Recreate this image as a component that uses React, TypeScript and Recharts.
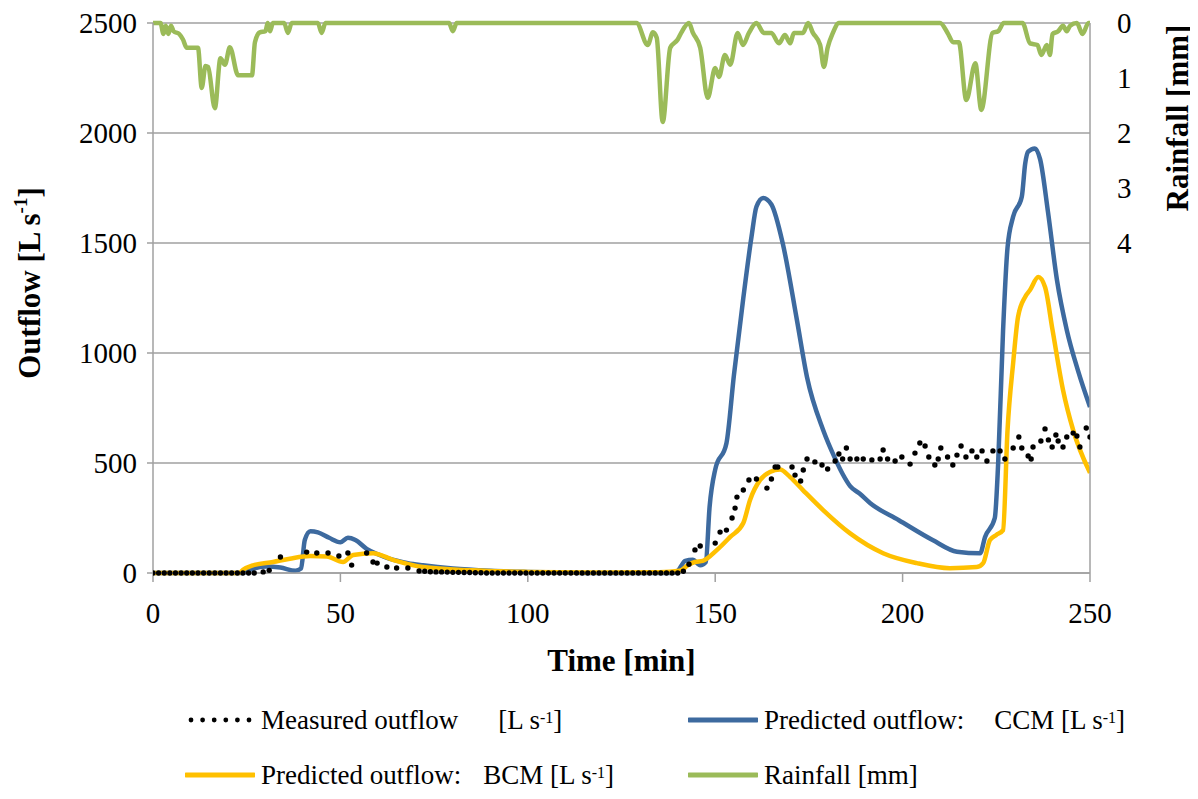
import React from 'react';
import { LineChart, Line, XAxis, YAxis, CartesianGrid, Legend, Label } from 'recharts';

// ---- data ----
const timeTicks = [0, 50, 100, 150, 200, 250];
const flowTicks = [0, 500, 1000, 1500, 2000, 2500];
const rainTicks = [0, 1, 2, 3, 4];

const rainTime = [0, 2, 2.8, 3.4, 4.1, 4.8, 5.5, 7, 8, 9, 12, 13, 14, 14.7, 16.5, 18, 19.2, 20.5, 22.7, 26.4, 27.2, 28.5, 30, 30.6, 31.2, 32, 35, 36, 37, 44, 45, 46, 79, 80, 81, 129, 132, 133.4, 134.4, 136, 138, 140, 141, 143, 144, 146, 148, 150, 151, 152.6, 154, 156, 157.4, 159, 161, 163, 165, 167, 168.6, 170, 171, 173.4, 174.8, 176, 178, 179, 180, 181.4, 183, 210, 212, 213.5, 215, 217, 219.4, 221, 224, 225.5, 227, 232, 234, 236, 237, 238.5, 239.3, 240, 241.5, 242.8, 243.8, 244.7, 246.5, 248, 249.6, 250];
const rainMm = [0, 0, 0.2, 0.05, 0.2, 0.05, 0.15, 0.2, 0.3, 0.45, 0.45, 1.18, 0.78, 0.8, 1.55, 0.64, 0.76, 0.44, 0.95, 0.95, 0.35, 0.17, 0.15, 0, 0.15, 0, 0, 0.18, 0, 0, 0.18, 0, 0, 0.15, 0, 0, 0.4, 0.17, 0.27, 1.8, 0.45, 0.3, 0.17, 0, 0.17, 0.45, 1.36, 0.82, 0.98, 0.58, 0.76, 0.18, 0.4, 0.18, 0, 0.18, 0.18, 0.37, 0.22, 0.37, 0.18, 0.18, 0, 0.17, 0.4, 0.8, 0.45, 0.18, 0, 0, 0.18, 0.35, 0.35, 1.4, 0.73, 1.58, 0.18, 0.15, 0, 0, 0.37, 0.4, 0.58, 0.4, 0.58, 0.2, 0.15, 0.05, 0.15, 0.05, 0, 0.2, 0, 0];

const ccmTime = [0, 24, 26, 30, 34, 38, 39.5, 40.5, 42, 44, 47, 50, 52, 54, 57, 60, 63, 68, 72, 80, 90, 100, 110, 120, 138, 140, 142, 144, 146, 147.5, 148.5, 150, 153, 155, 157.5, 159.7, 161, 162.8, 165, 168, 171.8, 174.5, 178.8, 182, 184, 186, 188.6, 191.3, 199, 208, 214.5, 220.7, 222, 224.6, 225.5, 226.8, 228, 229.5, 231.8, 232.7, 233.5, 235.3, 236.7, 238.8, 241.2, 243.8, 246.8, 250];
const ccmFlow = [0, 0, 15, 30, 25, 10, 20, 150, 190, 185, 160, 140, 160, 150, 110, 85, 65, 45, 35, 20, 10, 5, 2, 0, 0, 10, 55, 60, 35, 50, 300, 470, 590, 900, 1250, 1530, 1665, 1705, 1675, 1500, 1150, 890, 650, 520, 450, 395, 360, 318, 240, 150, 97, 90, 164, 250, 500, 1100, 1480, 1620, 1710, 1860, 1915, 1930, 1880, 1640, 1330, 1105, 920, 755];

const bcmTime = [0, 23, 24, 26.7, 32, 36.5, 42, 46.4, 50.7, 53.4, 58.7, 64, 72, 85, 100, 120, 135, 140.6, 142.7, 144.6, 146.7, 150.5, 154, 157.5, 159.3, 162, 164.6, 167.3, 170, 173.4, 178.8, 186, 194.8, 203.8, 212.6, 219.8, 221.5, 223.3, 225, 226.8, 228, 229.5, 230.8, 232.7, 234, 236.2, 238, 240, 242.8, 245.5, 250];
const bcmFlow = [0, 0, 14, 35, 50, 65, 77, 75, 50, 82, 90, 60, 27, 12, 5, 2, 3, 10, 35, 50, 55, 105, 164, 227, 332, 423, 459, 470, 436, 377, 286, 180, 90, 45, 22, 27, 45, 150, 173, 195, 650, 955, 1164, 1255, 1286, 1345, 1300, 1105, 832, 650, 455];

const measTime = [0, 1.5, 3, 4.5, 6, 7.5, 9, 10.5, 12, 13.5, 15, 16.5, 18, 19.5, 21, 22.5, 24, 25.5, 27, 29.4, 31, 34, 41, 43.7, 46.7, 49.6, 52, 53, 57, 58.7, 59.8, 62.4, 65, 68, 71, 72.5, 74, 75.5, 77, 78.5, 80, 81.5, 83, 84.5, 86, 87.5, 89, 90.5, 92, 93.5, 95, 96.5, 98, 99.5, 101, 102.5, 104, 105.5, 107, 108.5, 110, 111.5, 113, 114.5, 116, 117.5, 119, 120.5, 122, 123.5, 125, 126.5, 128, 129.5, 131, 132.5, 134, 135.5, 137, 138.5, 140, 141.5, 143, 144.6, 146, 150, 151.3, 153, 154.5, 155.3, 155.8, 157.5, 159, 161, 163.8, 165, 166, 166.7, 170.5, 171.3, 172.8, 173.5, 174.5, 176.6, 178.5, 180, 182, 183, 184, 185, 186, 187.8, 189.5, 191.8, 194, 194.8, 196, 198, 199.8, 202, 203.3, 204.6, 206, 207, 208.6, 209.5, 210.2, 212, 213.4, 214.5, 215.6, 216.9, 218.5, 219.8, 221.2, 222.5, 224.1, 226, 227.3, 229.5, 231, 231.8, 233.5, 234.3, 234.8, 236.9, 238, 238.9, 239.9, 240.9, 241.5, 242.8, 243.8, 245.5, 246.5, 247.3, 249, 250];
const measFlow = [0, 0, 0, 0, 0, 0, 0, 0, 0, 0, 0, 0, 0, 0, 0, 0, 0, 0, 0, 5, 12, 73, 95, 91, 91, 77, 91, 36, 91, 50, 45, 27, 23, 23, 9, 8, 6, 5, 5, 4, 3, 3, 2, 2, 1, 1, 0, 0, 0, 0, 0, 0, 0, 0, 0, 0, 0, 0, 0, 0, 0, 0, 0, 0, 0, 0, 0, 0, 0, 0, 0, 0, 0, 0, 0, 0, 0, 0, 0, 0, 0, 8, 40, 105, 123, 136, 186, 195, 250, 295, 345, 377, 423, 427, 386, 427, 482, 482, 482, 445, 418, 468, 518, 505, 491, 473, 509, 541, 518, 568, 518, 518, 518, 514, 518, 559, 518, 509, 527, 495, 545, 591, 577, 527, 491, 518, 568, 527, 491, 536, 577, 527, 555, 527, 555, 509, 555, 555, 518, 568, 618, 568, 532, 518, 573, 600, 655, 605, 573, 627, 600, 573, 618, 636, 623, 573, 659, 618];

const rainData = rainTime.map((t, i) => ({ t, rain: rainMm[i] }));
const ccmData = ccmTime.map((t, i) => ({ t, ccm: ccmFlow[i] }));
const bcmData = bcmTime.map((t, i) => ({ t, bcm: bcmFlow[i] }));
const measData = measTime.map((t, i) => ({ t, meas: measFlow[i] }));

const FONT = '"Liberation Serif", "Times New Roman", serif';
const C_BLUE = '#3D6A9F';
const C_ORANGE = '#FFC000';
const C_GREEN = '#9BBB59';
const C_AXIS = '#a0a0a0';
const TICK_FS = 29;
const TITLE_FS = 31;

const XTick = (props: any) => {
  const { x, y, payload } = props;
  return (
    <text x={x} y={y} textAnchor="middle" dominantBaseline="hanging" style={{ fontFamily: FONT, fontSize: TICK_FS }} fill="#000">
      {payload.value}
    </text>
  );
};

const LeftTick = (props: any) => {
  const { x, y, payload } = props;
  return (
    <text x={x} y={y} textAnchor="end" dominantBaseline="central" style={{ fontFamily: FONT, fontSize: TICK_FS }} fill="#000">
      {payload.value}
    </text>
  );
};

const RightTick = (props: any) => {
  const { x, y, payload } = props;
  return (
    <text x={x} y={y} textAnchor="start" dominantBaseline="central" style={{ fontFamily: FONT, fontSize: TICK_FS }} fill="#000">
      {payload.value}
    </text>
  );
};

const LeftTitle = (props: any) => {
  const vb = props.viewBox || {};
  const cx = vb.x - 44;
  const cy = vb.y + vb.height / 2 - 15;
  return (
    <text x={cx} y={cy} transform={`rotate(-90, ${cx}, ${cy})`} textAnchor="middle" dominantBaseline="central"
      style={{ fontFamily: FONT, fontWeight: 'bold', fontSize: TITLE_FS }} fill="#000">
      Outflow [L s<tspan dy={-9} style={{ fontSize: 19 }}>-1</tspan><tspan dy={9}>]</tspan>
    </text>
  );
};

const RightTitle = (props: any) => {
  const vb = props.viewBox || {};
  const cx = vb.x + 87;
  const cy = vb.y + 95;
  return (
    <text x={cx} y={cy} transform={`rotate(-90, ${cx}, ${cy})`} textAnchor="middle" dominantBaseline="central"
      style={{ fontFamily: FONT, fontWeight: 'bold', fontSize: TITLE_FS }} fill="#000">
      Rainfall [mm]
    </text>
  );
};

const BottomTitle = (props: any) => {
  const vb = props.viewBox || {};
  const cx = vb.x + vb.width / 2;
  const cy = vb.y + 87;
  return (
    <text x={cx} y={cy} textAnchor="middle" dominantBaseline="central"
      style={{ fontFamily: FONT, fontWeight: 'bold', fontSize: TITLE_FS }} fill="#000">
      Time [min]
    </text>
  );
};

const Sup = ({ children }: any) => (
  <span style={{ fontSize: 16, verticalAlign: 'top', position: 'relative', top: -2 }}>{children}</span>
);

const Sample = ({ kind, color }: any) => (
  <svg width={70} height={12} style={{ display: 'block' }}>
    {kind === 'dots' ? (
      [0, 1, 2, 3, 4, 5].map((k) => <circle key={k} cx={6 + k * 11.6} cy={6} r={2.4} fill="#000" />)
    ) : (
      <line x1={1} y1={6} x2={69} y2={6} stroke={color} strokeWidth={5} strokeLinecap="round" />
    )}
  </svg>
);

const LegendItem = ({ left, top, kind, color, children }: any) => (
  <div style={{ position: 'absolute', left, top, height: 30, display: 'flex', alignItems: 'center', whiteSpace: 'pre' }}>
    <Sample kind={kind} color={color} />
    <span style={{ marginLeft: 6 }}>{children}</span>
  </div>
);

const LegendContent = () => (
  <div style={{ position: 'relative', width: 1190, height: 100, fontFamily: FONT, fontSize: 27, color: '#000', lineHeight: '30px' }}>
    <LegendItem left={177} top={7} kind="dots">
      Measured outflow<span style={{ marginLeft: 40 }}>[L s<Sup>-1</Sup>]</span>
    </LegendItem>
    <LegendItem left={680} top={7} kind="line" color={C_BLUE}>
      Predicted outflow:<span style={{ marginLeft: 30 }}>CCM [L s<Sup>-1</Sup>]</span>
    </LegendItem>
    <LegendItem left={177} top={62} kind="line" color={C_ORANGE}>
      Predicted outflow:<span style={{ marginLeft: 22 }}>BCM [L s<Sup>-1</Sup>]</span>
    </LegendItem>
    <LegendItem left={680} top={62} kind="line" color={C_GREEN}>
      Rainfall [mm]
    </LegendItem>
  </div>
);

export default function App() {
  return (
    <div style={{ width: 1190, height: 783 }}>
      <LineChart width={1190} height={783} margin={{ top: 15, right: 48, left: 65, bottom: 158 }}>
        <CartesianGrid yAxisId="flow" vertical={false} stroke={C_AXIS} strokeWidth={1.5} />
        <XAxis dataKey="t" type="number" domain={[0, 250]} ticks={timeTicks} allowDataOverflow interval={0}
          height={60} tickSize={9} tickMargin={20} tick={<XTick />}
          axisLine={{ stroke: C_AXIS, strokeWidth: 1.5 }} tickLine={{ stroke: C_AXIS, strokeWidth: 1.5 }}>
          <Label content={<BottomTitle />} />
        </XAxis>
        <YAxis yAxisId="flow" domain={[0, 2500]} ticks={flowTicks} width={80} tickSize={6} tickMargin={10} interval={0}
          tick={<LeftTick />} axisLine={{ stroke: C_AXIS, strokeWidth: 1.5 }} tickLine={{ stroke: C_AXIS, strokeWidth: 1.5 }}>
          <Label content={<LeftTitle />} />
        </YAxis>
        <YAxis yAxisId="rain" orientation="right" domain={[0, 10]} reversed ticks={rainTicks} width={60} interval={0}
          tickSize={6} tickMargin={21} tick={<RightTick />} tickLine={false}
          axisLine={{ stroke: C_AXIS, strokeWidth: 1.5 }}>
          <Label content={<RightTitle />} />
        </YAxis>
        <Legend layout="horizontal" verticalAlign="middle" align="center"
          wrapperStyle={{ top: 690, left: 0, width: 1190, height: 100 }}
          content={<LegendContent />} />
        <Line data={measData} dataKey="meas" yAxisId="flow" stroke="none" strokeWidth={0}
          dot={{ r: 2.7, fill: '#000', stroke: 'none' }} activeDot={false} isAnimationActive={false} />
        <Line data={ccmData} dataKey="ccm" yAxisId="flow" type="monotone" stroke={C_BLUE} strokeWidth={4.5}
          dot={false} activeDot={false} isAnimationActive={false} />
        <Line data={bcmData} dataKey="bcm" yAxisId="flow" type="monotone" stroke={C_ORANGE} strokeWidth={4.5}
          dot={false} activeDot={false} isAnimationActive={false} />
        <Line data={rainData} dataKey="rain" yAxisId="rain" type="monotone" stroke={C_GREEN} strokeWidth={4.5}
          dot={false} activeDot={false} isAnimationActive={false} />
      </LineChart>
    </div>
  );
}
